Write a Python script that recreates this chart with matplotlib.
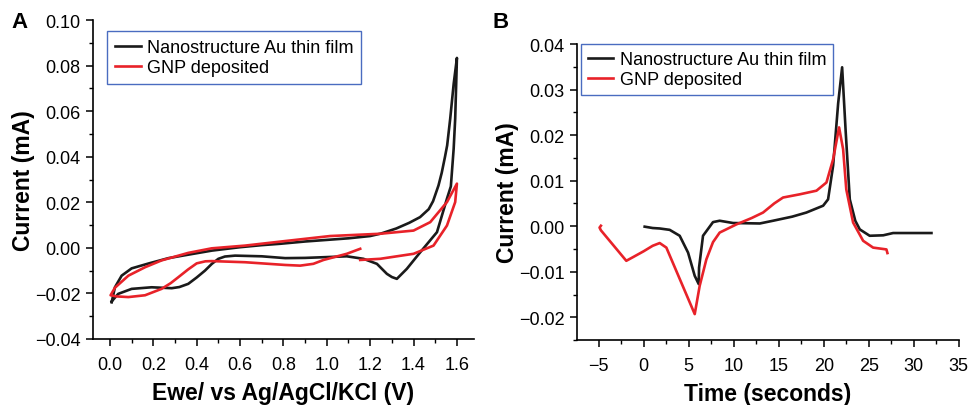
import numpy as np
import matplotlib.pyplot as plt
from matplotlib.ticker import MultipleLocator, FuncFormatter

plt.rcParams['font.family'] = ['Liberation Sans', 'DejaVu Sans']

#------------------------------------
# Data
#------------------------------------

# A: cyclic voltammograms, potential (V) and current (mA)
au_cv_v = [0.008, 0.023, 0.054, 0.10, 0.18, 0.27, 0.36, 0.47, 0.60, 0.70, 0.785,
           0.90, 1.00, 1.10, 1.20, 1.25, 1.32, 1.38, 1.43, 1.47, 1.49, 1.515,
           1.53, 1.545, 1.555, 1.569, 1.585, 1.60,
           1.596, 1.592, 1.585, 1.572, 1.554, 1.508, 1.431, 1.369, 1.323, 1.30,
           1.277, 1.231, 1.169, 1.092, 0.985, 0.90, 0.808, 0.70, 0.577, 0.53,
           0.50, 0.47, 0.438, 0.40, 0.361, 0.32, 0.285, 0.192, 0.10, 0.038, 0.008]
au_cv_i = [-0.0239, -0.0173, -0.0122, -0.0090, -0.0068, -0.0045, -0.0030, -0.0012,
           0.0003, 0.0012, 0.0018, 0.0028, 0.0035, 0.0042, 0.0052, 0.0063, 0.0085,
           0.0110, 0.0135, 0.0170, 0.0205, 0.0274, 0.0330, 0.0400, 0.0450, 0.0567,
           0.0720, 0.0834,
           0.0700, 0.0567, 0.0436, 0.0270, 0.0216, 0.0069, -0.0019, -0.0092,
           -0.0136, -0.0128, -0.0114, -0.0070, -0.0048, -0.0037, -0.0041, -0.0044,
           -0.0045, -0.0037, -0.0034, -0.0038, -0.0048, -0.0070, -0.0100, -0.0130,
           -0.0158, -0.0172, -0.0177, -0.0173, -0.0180, -0.0202, -0.0235]

gnp_cv_v = [1.154, 1.092, 0.985, 0.938, 0.877, 0.808, 0.70, 0.623, 0.469, 0.44,
            0.40, 0.36, 0.315, 0.28, 0.238, 0.162, 0.085, 0.03, 0.003,
            0.023, 0.085, 0.162, 0.238, 0.361, 0.469, 0.623, 0.808, 1.015, 1.246,
            1.40, 1.477, 1.554, 1.60,
            1.592, 1.554, 1.492, 1.40, 1.246, 1.154]
gnp_cv_i = [-0.0004, -0.0026, -0.0053, -0.0070, -0.0078, -0.0075, -0.0068, -0.0063,
            -0.0058, -0.0059, -0.0068, -0.0095, -0.0129, -0.0155, -0.0180, -0.0208,
            -0.0216, -0.0213, -0.0208,
            -0.0175, -0.0122, -0.0085, -0.0055, -0.0022, -0.0002, 0.0010, 0.0030,
            0.0052, 0.0062, 0.0076, 0.0113, 0.0201, 0.0282,
            0.0201, 0.0098, 0.0010, -0.0026, -0.0048, -0.0053]

# B: current vs time
au_t = [0.11, 1.0, 1.78, 2.89, 4.0, 4.93, 5.67, 6.11, 6.15, 6.59, 7.7, 8.44, 9.93,
        12.9, 14.37, 16.5, 18.07, 19.93, 20.48, 21.04, 21.6, 22.04, 22.44, 22.89,
        23.5, 24.0, 25.1, 26.6, 27.7, 31.96]
au_i = [-0.0001, -0.0004, -0.0005, -0.0008, -0.0021, -0.0058, -0.0109, -0.0127,
        -0.0091, -0.0021, 0.0009, 0.0012, 0.0007, 0.0006, 0.0012, 0.0021, 0.0030,
        0.0045, 0.0059, 0.0133, 0.0270, 0.0349, 0.0206, 0.0059, 0.0012, -0.0007,
        -0.0021, -0.0020, -0.0015, -0.0015]

gnp_t = [-4.75, -4.9, -4.75, -1.93, -1.19, 0.0, 1.0, 1.78, 2.52, 5.67, 6.22, 6.96,
         7.7, 8.44, 10.3, 12.0, 13.26, 14.5, 15.48, 17.33, 19.19, 20.3, 21.04, 21.7,
         22.15, 22.5, 23.26, 24.37, 25.48, 26.96, 27.07]
gnp_i = [0.0001, -0.0003, -0.0009, -0.0076, -0.0068, -0.0055, -0.0043, -0.0037,
         -0.0047, -0.0193, -0.0131, -0.0073, -0.0035, -0.0014, 0.0004, 0.0018,
         0.0030, 0.0050, 0.0063, 0.0070, 0.0078, 0.0096, 0.0147, 0.0217, 0.0169,
         0.0081, 0.0008, -0.0032, -0.0047, -0.0051, -0.0059]

labels = ['Nanostructure Au thin film', 'GNP deposited']
black = '#1a1a1a'
red = '#e82229'

#------------------------------------
# Plot
#------------------------------------

def fmt(dec):
    return FuncFormatter(lambda v, p: ('%.*f' % (dec, v)).replace('-', '\u2212')
                         if abs(v) > 1e-12 else '%.*f' % (dec, 0))

fig = plt.figure(figsize=(9.69, 4.06), dpi=100)
axA = fig.add_axes([0.096, 0.1626, 0.393, 0.7854])
axB = fig.add_axes([0.5955, 0.160, 0.394, 0.729])

axA.plot(au_cv_v, au_cv_i, color=black, lw=1.9, label=labels[0], solid_joinstyle='round')
axA.plot(gnp_cv_v, gnp_cv_i, color=red, lw=1.9, label=labels[1], solid_joinstyle='round')
axA.set_xlim(-0.078, 1.678)
axA.set_ylim(-0.04, 0.10)
axA.xaxis.set_major_locator(MultipleLocator(0.2))
axA.xaxis.set_minor_locator(MultipleLocator(0.1))
axA.yaxis.set_major_locator(MultipleLocator(0.02))
axA.yaxis.set_minor_locator(MultipleLocator(0.01))
axA.xaxis.set_major_formatter(fmt(1))
axA.yaxis.set_major_formatter(fmt(2))
axA.set_xlabel('Ewe/ vs Ag/AgCl/KCl (V)', fontsize=16.5, fontweight='bold', labelpad=6)
axA.set_ylabel('Current (mA)', fontsize=16.5, fontweight='bold', labelpad=0)

axB.plot(au_t, au_i, color=black, lw=1.9, label=labels[0], solid_joinstyle='round')
axB.plot(gnp_t, gnp_i, color=red, lw=1.9, label=labels[1], solid_joinstyle='round')
axB.set_xlim(-7.4, 35)
axB.set_ylim(-0.025, 0.04)
axB.xaxis.set_major_locator(MultipleLocator(5))
axB.xaxis.set_minor_locator(MultipleLocator(2.5))
axB.yaxis.set_major_locator(MultipleLocator(0.01))
axB.yaxis.set_minor_locator(MultipleLocator(0.005))
axB.xaxis.set_major_formatter(fmt(0))
axB.yaxis.set_major_formatter(fmt(2))
axB.set_xlabel('Time (seconds)', fontsize=16.5, fontweight='bold', labelpad=6)
axB.set_ylabel('Current (mA)', fontsize=16.5, fontweight='bold', labelpad=0)

for ax in (axA, axB):
    for s in ('top', 'right'):
        ax.spines[s].set_visible(False)
    for s in ('left', 'bottom'):
        ax.spines[s].set_linewidth(1.2)
    ax.tick_params(which='major', direction='out', length=5, width=1.1,
                   labelsize=13, pad=4)
    ax.tick_params(which='minor', direction='out', length=3, width=1.0)
    ax.tick_params(axis='x', which='major', pad=7)

legA = axA.legend(loc='upper left', bbox_to_anchor=(0.037, 0.965), fontsize=13,
                  frameon=True, fancybox=False, borderaxespad=0, handlelength=1.4,
                  handletextpad=0.35, borderpad=0.45, labelspacing=0.15)
legB = axB.legend(loc='upper left', bbox_to_anchor=(0.01, 1.0), fontsize=13,
                  frameon=True, fancybox=False, borderaxespad=0, handlelength=1.4,
                  handletextpad=0.35, borderpad=0.4, labelspacing=0.15)
for leg in (legA, legB):
    leg.get_frame().set_edgecolor('#4a6cc0')
    leg.get_frame().set_linewidth(1.0)
    leg.get_frame().set_alpha(1)

fig.text(0.020, 0.945, 'A', fontsize=16, fontweight='bold', ha='center', va='center')
fig.text(0.517, 0.945, 'B', fontsize=16, fontweight='bold', ha='center', va='center')

fig.savefig('out.png', dpi=100)
